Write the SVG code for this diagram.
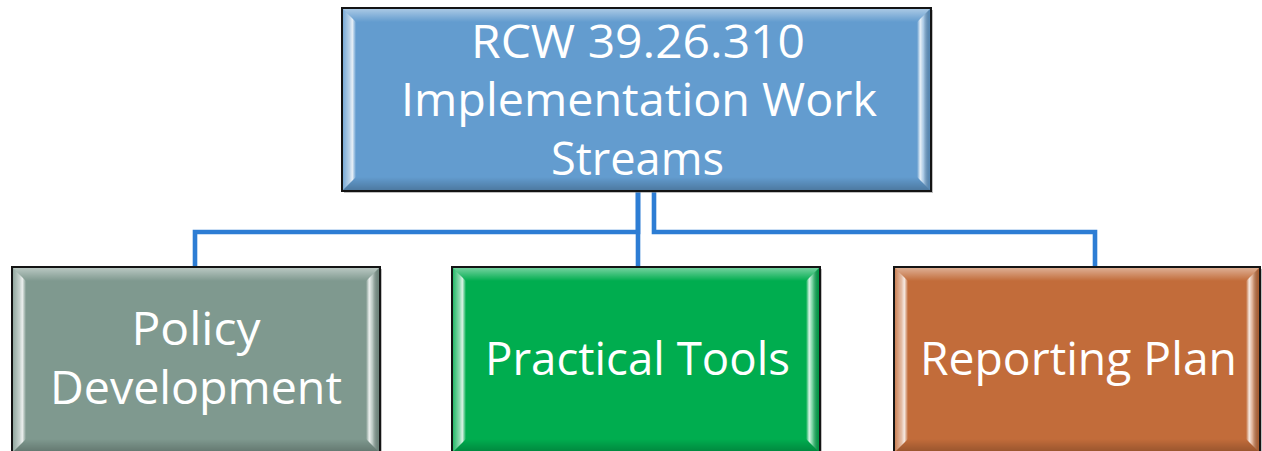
<svg xmlns="http://www.w3.org/2000/svg" width="1262" height="451" viewBox="0 0 1262 451">
  <defs>
    <linearGradient id="gTop" x1="0" y1="0" x2="0" y2="1">
      <stop offset="0" stop-color="#ffffff" stop-opacity="0.45"/>
      <stop offset="1" stop-color="#ffffff" stop-opacity="0"/>
    </linearGradient>
    <linearGradient id="gLeft" x1="0" y1="0" x2="1" y2="0">
      <stop offset="0" stop-color="#ffffff" stop-opacity="0.15"/>
      <stop offset="0.5" stop-color="#ffffff" stop-opacity="0.55"/>
      <stop offset="0.72" stop-color="#ffffff" stop-opacity="0.85"/>
      <stop offset="1" stop-color="#ffffff" stop-opacity="0"/>
    </linearGradient>
    <linearGradient id="gRight" x1="0" y1="0" x2="1" y2="0">
      <stop offset="0" stop-color="#ffffff" stop-opacity="0"/>
      <stop offset="0.25" stop-color="#ffffff" stop-opacity="0.85"/>
      <stop offset="0.5" stop-color="#ffffff" stop-opacity="0.45"/>
      <stop offset="1" stop-color="#000000" stop-opacity="0.12"/>
    </linearGradient>
    <linearGradient id="gBottom" x1="0" y1="0" x2="0" y2="1">
      <stop offset="0" stop-color="#000000" stop-opacity="0"/>
      <stop offset="1" stop-color="#000000" stop-opacity="0.22"/>
    </linearGradient>
  </defs>
  <style>
    .conn { fill: none; stroke: #2d7dd4; stroke-width: 4.6; stroke-linejoin: miter; }
    .box { stroke: #141414; stroke-width: 2; }
    .shadow { fill: #8a8a8a; opacity: 0.55; }
    .bt { fill: url(#gTop); }
    .bl { fill: url(#gLeft); }
    .br { fill: url(#gRight); }
    .bb { fill: url(#gBottom); }
    .lbl { fill: #ffffff; font-family: "Open Sans", "Noto Sans", "Liberation Sans", sans-serif; font-size: 45px; text-anchor: middle; }
  </style>
  <rect width="1262" height="451" fill="#ffffff"/>

  <g id="connectors">
    <path class="conn" d="M638,191 V232 H195 V267"/>
    <path class="conn" d="M638,191 V267"/>
    <path class="conn" d="M654,191 V232 H1095 V267"/>
  </g>

  <g id="node-root">
    <rect class="shadow" x="344" y="10" width="589" height="183"/>
    <rect class="box" x="342" y="8" width="589" height="183" fill="#639ccf"/>
    <polygon class="bt" points="343,9 930,9 917,22 356,22"/>
    <polygon class="bl" points="343,9 356,22 356,177 343,190"/>
    <polygon class="br" points="930,9 930,190 917,177 917,22"/>
    <polygon class="bb" points="343,190 930,190 917,177 356,177"/>
    <text class="lbl" x="638" y="58" textLength="334" lengthAdjust="spacingAndGlyphs">RCW 39.26.310</text>
    <text class="lbl" x="639" y="116" textLength="476" lengthAdjust="spacingAndGlyphs">Implementation Work</text>
    <text class="lbl" x="637.5" y="175" textLength="173" lengthAdjust="spacingAndGlyphs">Streams</text>
  </g>

  <g id="node-policy">
    <rect class="shadow" x="14" y="269" width="368" height="186"/>
    <rect class="box" x="12" y="267" width="368" height="186" fill="#7f998f"/>
    <polygon class="bt" points="13,268 379,268 366,281 26,281"/>
    <polygon class="bl" points="13,268 26,281 26,439 13,452"/>
    <polygon class="br" points="379,268 379,452 366,439 366,281"/>
    <polygon class="bb" points="13,452 379,452 366,439 26,439"/>
    <text class="lbl" x="196" y="345" textLength="129" lengthAdjust="spacingAndGlyphs">Policy</text>
    <text class="lbl" x="196" y="404" textLength="292" lengthAdjust="spacingAndGlyphs">Development</text>
  </g>

  <g id="node-tools">
    <rect class="shadow" x="454" y="269" width="368" height="186"/>
    <rect class="box" x="452" y="267" width="368" height="186" fill="#00ad4f"/>
    <polygon class="bt" points="453,268 819,268 806,281 466,281"/>
    <polygon class="bl" points="453,268 466,281 466,439 453,452"/>
    <polygon class="br" points="819,268 819,452 806,439 806,281"/>
    <polygon class="bb" points="453,452 819,452 806,439 466,439"/>
    <text class="lbl" x="637.5" y="375" textLength="305" lengthAdjust="spacingAndGlyphs">Practical Tools</text>
  </g>

  <g id="node-reporting">
    <rect class="shadow" x="896" y="269" width="366" height="186"/>
    <rect class="box" x="894" y="267" width="366" height="186" fill="#c26c3a"/>
    <polygon class="bt" points="895,268 1259,268 1246,281 908,281"/>
    <polygon class="bl" points="895,268 908,281 908,439 895,452"/>
    <polygon class="br" points="1259,268 1259,452 1246,439 1246,281"/>
    <polygon class="bb" points="895,452 1259,452 1246,439 908,439"/>
    <text class="lbl" x="1078.5" y="375" textLength="317" lengthAdjust="spacingAndGlyphs">Reporting Plan</text>
  </g>
</svg>
